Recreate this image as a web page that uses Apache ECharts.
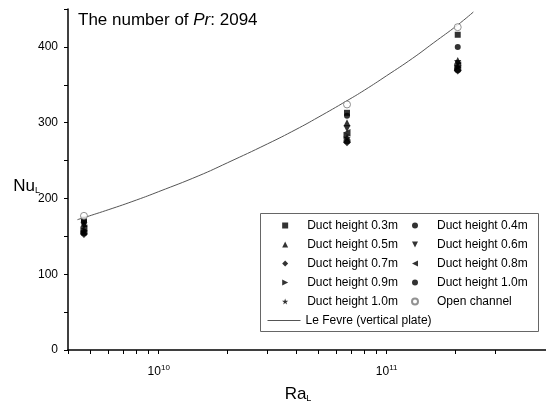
<!DOCTYPE html>
<html>
<head>
<meta charset="utf-8">
<script src="https://cdn.jsdelivr.net/npm/echarts@6/dist/echarts.min.js"></script>
<style>html,body{margin:0;padding:0;background:#fff;}#c{width:546px;height:408px;}</style>
</head>
<body>
<div id="c"></div>
<script>
// ---- data ----
const raValues = [4.7e9, 6.7e10, 2.05e11];
const nu03 = [172, 313, 416];
const nu04 = [170, 309, 400];
const nu05 = [167, 300, 382];
const nu06 = [164, 292, 378];
const nu07 = [153, 274, 369];
const nu08 = [161, 287, 376];
const nu09 = [158, 283, 373];
const nu10a = [155, 276, 370];
const nu10b = [156, 280, 374];
const nuOpen = [177, 324, 426];
const leFevreRa = [4.4e9, 6e9, 8e9, 1e10, 1.5e10, 2e10, 3e10, 4e10, 5e10, 6.7e10, 8e10, 1e11, 1.3e11, 1.6e11, 2.05e11, 2.4e11];
const leFevreNu = [172, 185, 198, 209, 230, 247, 272, 291, 307, 329, 343, 362, 385, 405, 429, 446];
const xTickValues = [4e9, 5e9, 6e9, 7e9, 8e9, 9e9, 1e10, 2e10, 3e10, 4e10, 5e10, 6e10, 7e10, 8e10, 9e10, 1e11, 2e11, 3e11];
const xLabelValues = [1e10, 1e11];
const yTicks = [0, 100, 200, 300, 400];

const FONT = 'Liberation Sans, Arial, sans-serif';
const pair = (ys) => raValues.map((r, i) => [r, ys[i]]);

const SYM = {
  square: 'path://M0,0L10,0L10,10L0,10Z',
  up: 'path://M5,0L10,10L0,10Z',
  down: 'path://M0,0L10,0L5,10Z',
  diamond: 'path://M5,0L10,5L5,10L0,5Z',
  left: 'path://M10,0L10,10L0,5Z',
  right: 'path://M0,0L10,5L0,10Z',
  star: 'path://M5,0L6.2,3.6L10,3.6L6.9,5.9L8.1,9.5L5,7.3L1.9,9.5L3.1,5.9L0,3.6L3.8,3.6Z'
};

function sc(name, ys, symbol, size, extra) {
  return Object.assign({
    type: 'scatter', name: name, data: pair(ys), symbol: symbol, symbolSize: size,
    itemStyle: { color: '#000' }, z: 5
  }, extra || {});
}

const series = [
  sc('Duct height 0.3m', nu03, SYM.square, 6),
  sc('Duct height 0.4m', nu04, 'circle', 6),
  sc('Duct height 0.5m', nu05, SYM.up, 7),
  sc('Duct height 0.6m', nu06, SYM.down, 7),
  sc('Duct height 0.7m', nu07, SYM.diamond, 8),
  sc('Duct height 0.8m', nu08, SYM.left, 7),
  sc('Duct height 0.9m', nu09, SYM.right, 7),
  sc('Duct height 1.0m', nu10a, 'circle', 7),
  sc('Duct height 1.0m ', nu10b, SYM.star, 8),
  sc('Open channel', nuOpen, 'circle', 7, { itemStyle: { color: '#fff', borderColor: '#777', borderWidth: 1 }, z: 6 }),
  {
    type: 'line', name: 'Le Fevre (vertical plate)',
    data: leFevreRa.map((r, i) => [r, leFevreNu[i]]),
    symbol: 'none', smooth: true,
    lineStyle: { color: '#555', width: 1 }, z: 3
  }
];

const legendBase = {
  orient: 'vertical', padding: 0, itemGap: 0, itemWidth: 34, itemHeight: 6,
  symbolKeepAspect: true,
  textStyle: { fontFamily: FONT, fontSize: 12, color: '#000', lineHeight: 19 },
  selectedMode: false, z: 20
};

const chart = echarts.init(document.getElementById('c'), null, { renderer: 'canvas' });
chart.setOption({
  animation: false,
  backgroundColor: '#fff',
  title: {
    text: 'The number of {i|Pr}: 2094', left: 78, top: 12, padding: 0,
    textStyle: { fontFamily: FONT, fontSize: 17, fontWeight: 'normal', color: '#000',
      rich: { i: { fontFamily: FONT, fontSize: 17, fontStyle: 'italic', color: '#000' } } }
  },
  grid: { left: 68, right: 0, top: 9, bottom: 58, containLabel: false },
  xAxis: {
    type: 'log', logBase: 10, min: 4e9, max: 5e11,
    name: 'Ra{sub|L}', nameLocation: 'middle', nameGap: 36,
    nameTextStyle: { fontFamily: FONT, fontSize: 17, color: '#000', padding: [0, 18, 0, 0],
      rich: { sub: { fontFamily: FONT, fontSize: 9, color: '#000', verticalAlign: 'bottom', padding: [8, 0, 0, 0] } } },
    axisLine: { show: true, onZero: false, lineStyle: { color: '#000', width: 1.5 } },
    axisTick: { show: true, inside: false, length: 4, lineStyle: { color: '#000', width: 1 }, customValues: xTickValues },
    axisLabel: {
      customValues: xLabelValues, margin: 14, color: '#000', fontFamily: FONT, fontSize: 12,
      formatter: (v) => '10{sup|' + Math.round(Math.log10(v)) + '}',
      rich: { sup: { fontFamily: FONT, fontSize: 8, color: '#000', padding: [0, 0, 8, 0] } }
    },
    splitLine: { show: false }
  },
  yAxis: {
    type: 'value', min: 0, max: 450, interval: 50,
    name: 'Nu{sub|L}', nameLocation: 'middle', nameGap: 28, nameRotate: 0, nameMoveOverlap: false,
    nameTextStyle: { fontFamily: FONT, fontSize: 17, color: '#000', padding: [14, 0, 0, 0],
      rich: { sub: { fontFamily: FONT, fontSize: 9, color: '#000', verticalAlign: 'bottom', padding: [8, 0, 0, 0] } } },
    axisLine: { show: true, onZero: false, lineStyle: { color: '#000', width: 1.5 } },
    axisTick: { show: true, inside: false, length: 4, lineStyle: { color: '#000', width: 1 } },
    axisLabel: {
      margin: 10, color: '#000', fontFamily: FONT, fontSize: 12,
      formatter: (v) => (yTicks.indexOf(v) >= 0 ? String(v) : '')
    },
    splitLine: { show: false }
  },
  legend: [
    Object.assign({}, legendBase, { left: 282, top: 216,
      data: ['Duct height 0.3m', 'Duct height 0.5m', 'Duct height 0.7m', 'Duct height 0.9m', 'Duct height 1.0m '] }),
    Object.assign({}, legendBase, { left: 411, top: 216,
      data: ['Duct height 0.4m', 'Duct height 0.6m', 'Duct height 0.8m', 'Duct height 1.0m', 'Open channel'] }),
    Object.assign({}, legendBase, { left: 267, top: 311, itemWidth: 33, itemHeight: 10,
      itemStyle: { color: 'rgba(0,0,0,0)', borderColor: 'rgba(0,0,0,0)', borderWidth: 0, opacity: 0 },
      lineStyle: { color: '#555', width: 1 },
      data: ['Le Fevre (vertical plate)'] })
  ],
  graphic: [{
    type: 'rect', z: 10, silent: true,
    shape: { x: 260.5, y: 213.5, width: 278, height: 118 },
    style: { fill: '#fff', stroke: '#666', lineWidth: 1 }
  }],
  series: series
});
</script>
</body>
</html>
